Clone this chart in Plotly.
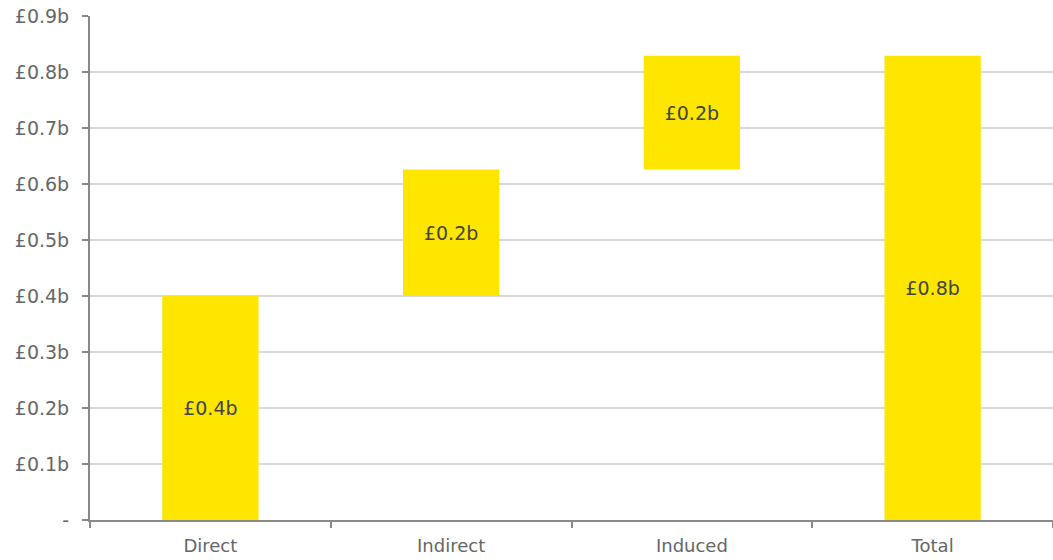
import plotly.graph_objects as go

categories = ["Direct", "Indirect", "Induced", "Total"]
values = [0.400, 0.226, 0.203, 0.829]
labels = ["£0.4b", "£0.2b", "£0.2b", "£0.8b"]
is_total = [False, False, False, True]
y_tickvals = [0, 0.1, 0.2, 0.3, 0.4, 0.5, 0.6, 0.7, 0.8, 0.9]
y_ticktext = ["-", "£0.1b", "£0.2b", "£0.3b", "£0.4b", "£0.5b", "£0.6b", "£0.7b", "£0.8b", "£0.9b"]

bases = []
running = 0.0
for v, t in zip(values, is_total):
    if t:
        bases.append(0.0)
    else:
        bases.append(running)
        running += v

fig = go.Figure()
fig.add_trace(go.Bar(
    x=categories, y=values, base=bases,
    marker=dict(color="#FFE600", line=dict(width=0)),
    width=0.4,
    text=labels, textposition="inside", insidetextanchor="middle",
    textfont=dict(color="#444444", size=19, family="DejaVu Sans"),
    hoverinfo="skip",
))

fig.update_layout(
    width=1053, height=560,
    margin=dict(l=90, r=0, t=16, b=40),
    paper_bgcolor="white", plot_bgcolor="white",
    showlegend=False,
    font=dict(family="DejaVu Sans", color="#666666", size=18),
)
fig.update_xaxes(
    type="category", range=[-0.5, 3.5],
    tickson="boundaries", ticks="outside", ticklen=6, tickcolor="#898989", tickwidth=2,
    showline=True, linecolor="#898989", linewidth=2,
    showgrid=False, tickfont=dict(size=18, color="#666666"),
    ticklabelstandoff=8,
)
fig.update_yaxes(
    range=[0, 0.9], tickvals=y_tickvals, ticktext=y_ticktext,
    ticks="outside", ticklen=6, tickcolor="#898989", tickwidth=2,
    showline=True, linecolor="#898989", linewidth=2,
    showgrid=True, gridcolor="#D9D9D9", gridwidth=2,
    zeroline=False, tickfont=dict(size=19, color="#666666"),
    ticklabelstandoff=9,
)

fig.write_html("out.html")
